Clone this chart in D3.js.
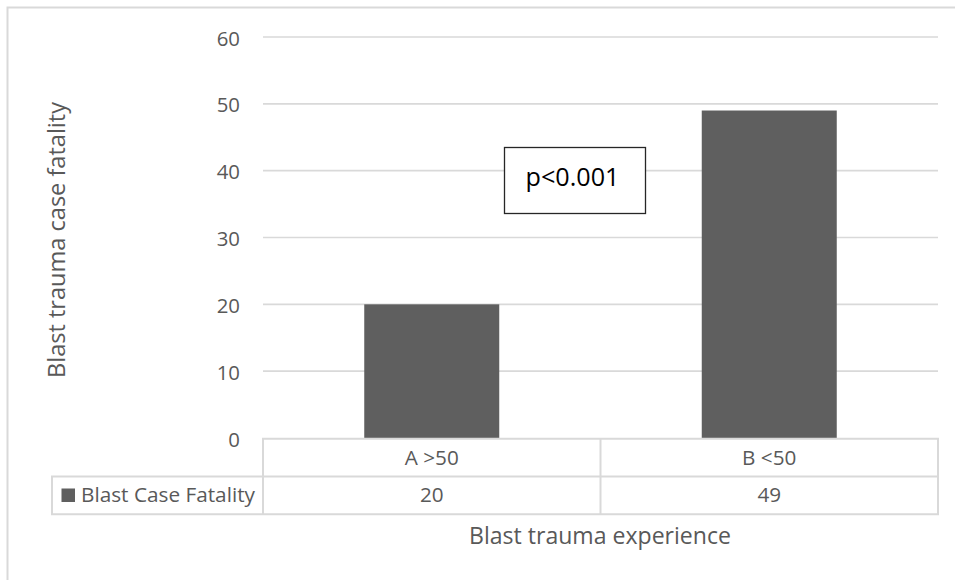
<!DOCTYPE html>
<html>
<head>
<meta charset="utf-8">
<script src="https://cdn.jsdelivr.net/npm/d3@7"></script>
<style>
  html, body { margin: 0; padding: 0; background: #fff; }
  svg { display: block; font-family: "Open Sans", "Noto Sans", sans-serif; }
</style>
</head>
<body>
<svg id="chart" width="955" height="580"></svg>
<script>
// Case fatality by blast trauma experience group
const categories = ["A >50", "B <50"];
const seriesName = "Blast Case Fatality";
const fatality = [20, 49];
const yTicks = [0, 10, 20, 30, 40, 50, 60];
const yTitle = "Blast trauma case fatality";
const xTitle = "Blast trauma experience";
const annotation = "p<0.001";

const svg = d3.select("#chart");
const W = 955, H = 580;
const plot = { left: 263, right: 938, top: 37, bottom: 438 };
const rowH = 37.7;
const legendLeft = 52;
const gridColor = "#d9d9d9";
const textColor = "#595959";
const barColor = "#5f5f5f";

// Scale a text node's font so its rendered width equals the wanted width
function fitWidth(sel, width) {
  const node = sel.node();
  const base = parseFloat(sel.style("font-size"));
  const w = node.getComputedTextLength();
  if (w > 0) sel.style("font-size", (base * width / w).toFixed(2) + "px");
  return sel;
}

// Chart area frame
svg.append("rect")
  .attr("x", 7.5).attr("y", 7.5)
  .attr("width", W).attr("height", H)
  .attr("fill", "#fff").attr("stroke", gridColor).attr("stroke-width", 2);

const x = d3.scaleBand().domain(categories).range([plot.left, plot.right]).paddingInner(0).paddingOuter(0);
const y = d3.scaleLinear().domain([0, 60]).range([plot.bottom, plot.top]);

// Horizontal gridlines
svg.append("g")
  .selectAll("line").data(yTicks.filter(d => d > 0)).join("line")
  .attr("x1", plot.left).attr("x2", plot.right)
  .attr("y1", d => y(d)).attr("y2", d => y(d))
  .attr("stroke", gridColor).attr("stroke-width", 1.6);

// Y axis tick labels
const yAxis = d3.axisLeft(y).tickValues(yTicks).tickSize(0).tickPadding(0);
const gy = svg.append("g").attr("transform", `translate(240,0)`).call(yAxis);
gy.select(".domain").remove();
gy.selectAll("text")
  .attr("fill", textColor)
  .attr("dy", null).attr("y", 8)
  .style("font-family", "'Open Sans', sans-serif")
  .style("font-size", "20px");
// size ticks so that "60" is about 23px wide
const t60 = gy.selectAll("text").filter(d => d === 60);
fitWidth(t60, 23.3);
gy.selectAll("text").style("font-size", t60.style("font-size"));

// Bars: 40% of each band
const barW = x.bandwidth() * 0.4;
svg.append("g").selectAll("rect").data(categories).join("rect")
  .attr("x", (d) => x(d) + (x.bandwidth() - barW) / 2)
  .attr("width", barW)
  .attr("y", (d, i) => y(fatality[i]))
  .attr("height", (d, i) => y(0) - y(fatality[i]))
  .attr("fill", barColor);

// Data table below the plot
const tbl = svg.append("g").attr("fill", "none").attr("stroke", gridColor).attr("stroke-width", 2);
const r1 = plot.bottom + 0.8, r2 = r1 + rowH, r3 = r1 + 2 * rowH;
tbl.append("line").attr("x1", plot.left - 1).attr("x2", plot.right + 1).attr("y1", r1).attr("y2", r1);
tbl.append("line").attr("x1", legendLeft - 1).attr("x2", plot.right + 1).attr("y1", r2).attr("y2", r2);
tbl.append("line").attr("x1", legendLeft - 1).attr("x2", plot.right + 1).attr("y1", r3).attr("y2", r3);
tbl.append("line").attr("x1", legendLeft).attr("x2", legendLeft).attr("y1", r2).attr("y2", r3);
const vlines = categories.map(c => x(c)).concat([plot.right]);
tbl.selectAll(".v").data(vlines).join("line")
  .attr("x1", d => d).attr("x2", d => d).attr("y1", r1).attr("y2", r3);

const cellText = svg.append("g").attr("fill", textColor).attr("text-anchor", "middle");
const catLabels = cellText.selectAll(".cat").data(categories).join("text")
  .attr("class", "cat")
  .attr("x", d => x(d) + x.bandwidth() / 2).attr("y", r1 + rowH / 2 + 7)
  .style("font-size", "20px")
  .text(d => d);
fitWidth(catLabels.filter((d, i) => i === 0), 54);
const cellSize = catLabels.filter((d, i) => i === 0).style("font-size");
catLabels.style("font-size", cellSize);
cellText.selectAll(".val").data(fatality).join("text")
  .attr("class", "val")
  .attr("x", (d, i) => x(categories[i]) + x.bandwidth() / 2).attr("y", r2 + rowH / 2 + 7)
  .style("font-size", cellSize)
  .text(d => d);

// Legend key in table
svg.append("rect").attr("x", 61.5).attr("y", r2 + 12).attr("width", 13.5).attr("height", 13.5).attr("fill", barColor);
const legText = svg.append("text").attr("x", 81).attr("y", r2 + rowH / 2 + 7)
  .attr("fill", textColor).style("font-size", "20px").text(seriesName);
fitWidth(legText, 174);

// Axis titles
const yt = svg.append("text")
  .attr("transform", `translate(65,240) rotate(-90)`)
  .attr("text-anchor", "middle").attr("fill", textColor).style("font-size", "22px")
  .text(yTitle);
fitWidth(yt, 276);
const xt = svg.append("text")
  .attr("x", 600).attr("y", 544)
  .attr("text-anchor", "middle").attr("fill", textColor).style("font-size", "22px")
  .text(xTitle);
fitWidth(xt, 262);

// Significance annotation
const box = svg.append("g");
box.append("rect").attr("x", 504.5).attr("y", 147.5).attr("width", 141).attr("height", 66)
  .attr("fill", "#fff").attr("stroke", "#262626").attr("stroke-width", 1.3);
const pt = box.append("text").attr("x", 572.5).attr("y", 186).attr("text-anchor", "middle")
  .attr("fill", "#000").style("font-size", "24px").text(annotation);
fitWidth(pt, 94);
</script>
</body>
</html>
